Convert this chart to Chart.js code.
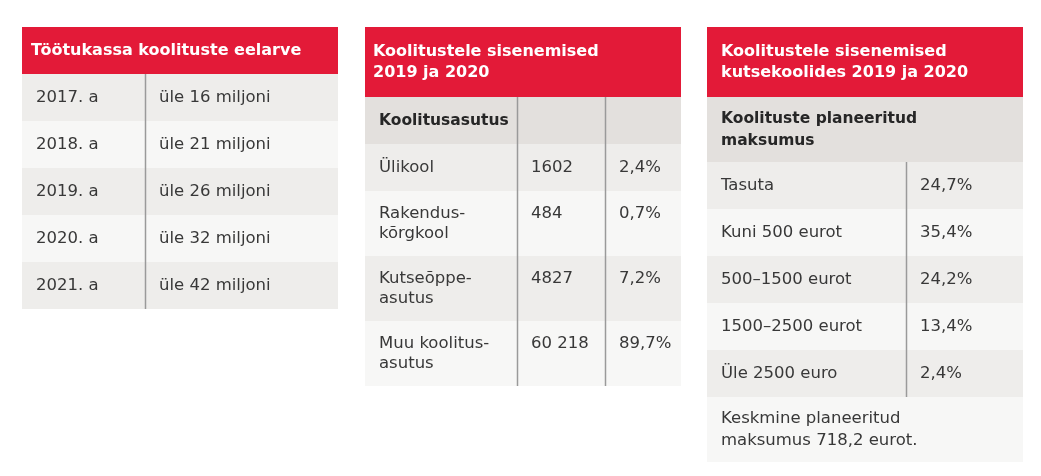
<!DOCTYPE html>
<html>
<head>
<meta charset="utf-8">
<script src="https://cdn.jsdelivr.net/npm/chart.js@4.4.1/dist/chart.umd.min.js"></script>
<style>
  html, body { margin: 0; padding: 0; background: #fff; }
  #wrap { width: 1041px; height: 476px; }
</style>
</head>
<body>
<div id="wrap"><canvas id="tables"></canvas></div>
<script>
// table contents
const budgetTitle = ['Töötukassa koolituste eelarve'];
const budgetYears = ['2017. a', '2018. a', '2019. a', '2020. a', '2021. a'];
const budgetMillions = [16, 21, 26, 32, 42];

const entryTitle = ['Koolitustele sisenemised', '2019 ja 2020'];
const entryHead = ['Koolitusasutus'];
const institutions = [['Ülikool'], ['Rakendus-', 'kõrgkool'], ['Kutseõppe-', 'asutus'], ['Muu koolitus-', 'asutus']];
const entrants = [1602, 484, 4827, 60218];
const entrantShares = [2.4, 0.7, 7.2, 89.7];

const vocTitle = ['Koolitustele sisenemised', 'kutsekoolides 2019 ja 2020'];
const vocHead = ['Koolituste planeeritud', 'maksumus'];
const costBands = ['Tasuta', 'Kuni 500 eurot', '500–1500 eurot', '1500–2500 eurot', 'Üle 2500 euro'];
const costShares = [24.7, 35.4, 24.2, 13.4, 2.4];
const avgCost = 718.2;

// helpers
function pct(v) { return v.toFixed(1).replace('.', ',') + '%'; }
function num(v) {
  var s = String(v);
  if (v < 10000) return s;
  return s.replace(/\B(?=(\d{3})+(?!\d))/g, ' ');
}

const RED = '#e31a38';
const HEAD = '#e3e0dd';
const GRAY = '#eeedeb';
const LIGHT = '#f7f7f6';
const FONT = '"DejaVu Sans", sans-serif';

// build the three tables
var tables = [
  {
    left: 22, width: 316, cols: [0, 123, 316], titlePad: 9,
    title: budgetTitle,
    rows: budgetYears.map(function (y, i) {
      return { cells: [[y], ['üle ' + budgetMillions[i] + ' miljoni']], split: true };
    })
  },
  {
    left: 365, width: 316, cols: [0, 152, 240, 316], titlePad: 8,
    title: entryTitle,
    head: { cells: [entryHead, [], []], split: true },
    rows: institutions.map(function (inst, i) {
      return { cells: [inst, [num(entrants[i])], [pct(entrantShares[i])]], split: true };
    })
  },
  {
    left: 707, width: 316, cols: [0, 199, 316], titlePad: 14, spacing: 22,
    title: vocTitle,
    head: { cells: [vocHead], split: false },
    rows: costBands.map(function (b, i) {
      return { cells: [[b], [pct(costShares[i])]], split: true };
    }),
    foot: { cells: [['Keskmine planeeritud', 'maksumus ' + String(avgCost).replace('.', ',') + ' eurot.']], split: false }
  }
];

function rowLines(row) {
  return Math.max.apply(null, row.cells.map(function (c) { return c.length; }));
}

var tablePlugin = {
  id: 'tablePlugin',
  afterDraw: function (chart) {
    var ctx = chart.ctx, sx = chart.scales.x, sy = chart.scales.y;
    ctx.save();
    tables.forEach(function (t) {
      var sp = t.spacing || 20;
      var x0 = sx.getPixelForValue(t.left);
      var x1 = sx.getPixelForValue(t.left + t.width);
      var top = 27;

      // title bar
      var th = t.title.length > 1 ? 70 : 47;
      var ya = sy.getPixelForValue(top), yb = sy.getPixelForValue(top + th);
      ctx.fillStyle = RED;
      ctx.fillRect(x0, ya, x1 - x0, yb - ya);
      ctx.fillStyle = '#fff';
      ctx.font = 'bold 16px ' + FONT;
      ctx.textBaseline = 'middle';
      var mid = top + th / 2;
      t.title.forEach(function (line, k) {
        var yy = mid + (k - (t.title.length - 1) / 2) * 21;
        ctx.fillText(line, sx.getPixelForValue(t.left + t.titlePad), sy.getPixelForValue(yy));
      });
      top += th;

      var all = [];
      if (t.head) all.push({ r: t.head, kind: 'head' });
      t.rows.forEach(function (r, i) { all.push({ r: r, kind: i % 2 ? 'light' : 'gray' }); });
      if (t.foot) all.push({ r: t.foot, kind: t.rows.length % 2 ? 'light' : 'gray' });

      all.forEach(function (item) {
        var r = item.r;
        var n = rowLines(r);
        var h = n > 1 ? 65 : 47;
        var ra = sy.getPixelForValue(top), rb = sy.getPixelForValue(top + h);
        ctx.fillStyle = item.kind === 'head' ? HEAD : (item.kind === 'gray' ? GRAY : LIGHT);
        ctx.fillRect(x0, ra, x1 - x0, rb - ra);

        var first = top + h / 2 - (n - 1) * sp / 2;
        ctx.font = (item.kind === 'head' ? 'bold 15.5px ' : '16.5px ') + FONT;
        ctx.fillStyle = item.kind === 'head' ? '#262626' : '#383838';
        r.cells.forEach(function (cell, c) {
          var cx = sx.getPixelForValue(t.left + t.cols[c] + 14);
          cell.forEach(function (line, k) {
            ctx.fillText(line, cx, sy.getPixelForValue(first + k * sp));
          });
        });

        if (r.split) {
          ctx.strokeStyle = '#9a9a9a';
          ctx.lineWidth = 1.5;
          for (var c = 1; c < t.cols.length - 1; c++) {
            var dx = Math.round(sx.getPixelForValue(t.left + t.cols[c])) + 0.5;
            ctx.beginPath();
            ctx.moveTo(dx, ra);
            ctx.lineTo(dx, rb);
            ctx.stroke();
          }
        }
        top += h;
      });
    });
    ctx.restore();
  }
};

new Chart(document.getElementById('tables'), {
  type: 'scatter',
  data: { datasets: [] },
  options: {
    responsive: true,
    maintainAspectRatio: false,
    animation: false,
    events: [],
    layout: { padding: 0 },
    plugins: { legend: { display: false }, tooltip: { enabled: false } },
    scales: {
      x: { type: 'linear', min: 0, max: 1041, display: false },
      y: { type: 'linear', min: 0, max: 476, reverse: true, display: false }
    }
  },
  plugins: [tablePlugin]
});
</script>
</body>
</html>
